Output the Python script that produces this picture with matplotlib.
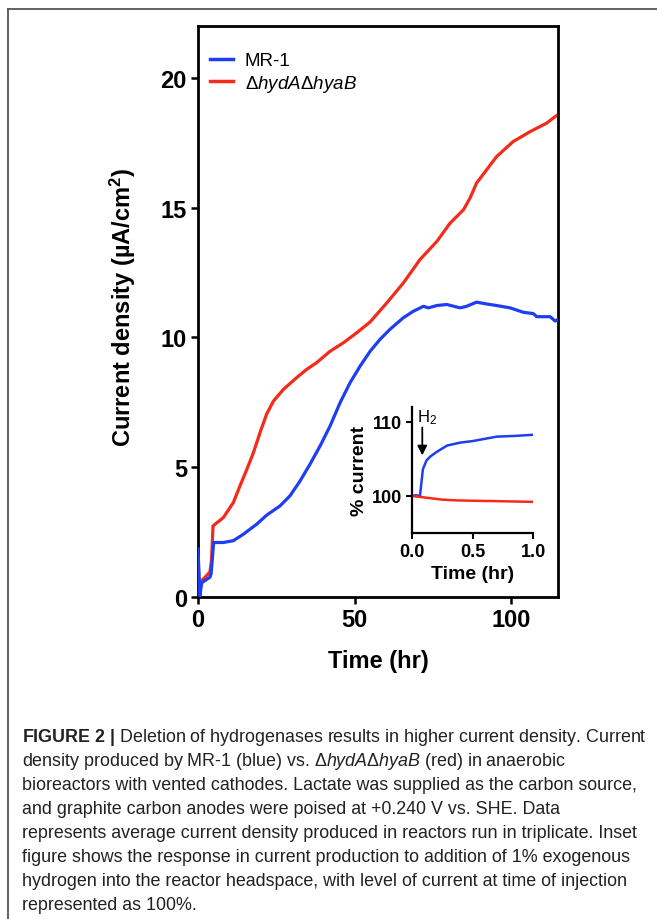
import matplotlib
matplotlib.use('Agg')
import matplotlib.pyplot as plt
from matplotlib.lines import Line2D

# 主图数据 (电流密度 µA/cm², 时间 hr)
t_mr1 = [0, 0.6, 1.2, 3.8, 4.2, 5.0, 8.1, 11.3, 14.5, 18.8, 21.9, 26.2, 29.4, 32.6, 35.8,
         39.0, 42.2, 45.4, 48.6, 51.8, 55, 58.1, 61.3, 65.6, 68.8, 72.0, 73.6, 76.3, 79.5,
         83.7, 85.8, 89.0, 92.2, 95.4, 99.7, 103.9, 107.1, 108.2, 112.5, 114.1, 115]
v_mr1 = [1.85, 0.05, 0.55, 0.76, 0.9, 2.1, 2.1, 2.17, 2.42, 2.81, 3.15, 3.51, 3.9, 4.47, 5.12,
         5.82, 6.59, 7.49, 8.26, 8.9, 9.47, 9.92, 10.31, 10.76, 11.01, 11.2, 11.14, 11.23, 11.27,
         11.14, 11.2, 11.36, 11.29, 11.23, 11.14, 10.97, 10.92, 10.8, 10.8, 10.63, 10.7]

t_mut = [0, 0.3, 1.2, 3.8, 4.3, 4.8, 8.1, 11.3, 13.4, 15.6, 17.7, 19.8, 21.9, 24.1, 27.3,
         31.5, 34.7, 37.9, 42.2, 46.4, 50.7, 55, 60.3, 65.6, 70.9, 76.3, 80.5, 84.8, 86.9,
         89.0, 92.2, 95.4, 100.7, 106.1, 111.4, 114.1, 115]
v_mut = [1.95, 0.4, 0.63, 0.96, 1.4, 2.74, 3.06, 3.64, 4.28, 4.92, 5.56, 6.33, 7.04, 7.55, 8.0,
         8.45, 8.77, 9.03, 9.47, 9.79, 10.18, 10.6, 11.33, 12.1, 13.0, 13.7, 14.4, 14.92, 15.37,
         15.95, 16.46, 16.97, 17.55, 17.93, 18.26, 18.51, 18.58]

# 插图数据 (% current)
ti_mr1 = [0, 0.03, 0.066, 0.09, 0.12, 0.15, 0.2, 0.29, 0.4, 0.5, 0.6, 0.7, 0.85, 1.0]
vi_mr1 = [100, 100.1, 100.0, 103.6, 104.8, 105.3, 105.9, 106.8, 107.2, 107.4, 107.7, 108.0, 108.1, 108.25]
ti_mut = [0, 0.05, 0.15, 0.25, 0.37, 0.5, 0.7, 0.85, 1.0]
vi_mut = [100, 99.9, 99.7, 99.5, 99.4, 99.35, 99.3, 99.25, 99.2]

labels = ['MR-1', r'$\Delta\mathit{hydA}\Delta\mathit{hyaB}$']
blue = '#1f3df2'
red = '#f52a1a'

caption = [
    r'$\mathbf{FIGURE\ 2\ |}$ Deletion of hydrogenases results in higher current density. Current',
    r'density produced by MR-1 (blue) vs. $\Delta\mathit{hydA}\Delta\mathit{hyaB}$ (red) in anaerobic',
    'bioreactors with vented cathodes. Lactate was supplied as the carbon source,',
    'and graphite carbon anodes were poised at +0.240 V vs. SHE. Data',
    'represents average current density produced in reactors run in triplicate. Inset',
    'figure shows the response in current production to addition of 1% exogenous',
    'hydrogen into the reactor headspace, with level of current at time of injection',
    'represented as 100%.',
]

plt.rcParams['font.family'] = ['Liberation Sans', 'DejaVu Sans']
plt.rcParams['mathtext.fontset'] = 'custom'
plt.rcParams['mathtext.rm'] = 'Liberation Sans'
plt.rcParams['mathtext.it'] = 'Liberation Sans:italic'
plt.rcParams['mathtext.bf'] = 'Liberation Sans:bold'

W, H = 657, 920
fig = plt.figure(figsize=(W / 100, H / 100), dpi=100)

# 外框线
fig.add_artist(Line2D([8 / W, 1], [1 - 10 / H, 1 - 10 / H], color='#555555', lw=1.3))
fig.add_artist(Line2D([8 / W, 8 / W], [0, 1 - 10 / H], color='#555555', lw=1.3))

# 主图
ax = fig.add_axes([198 / W, 1 - 598 / H, 360 / W, 571 / H])
ax.plot(t_mr1, v_mr1, color=blue, lw=2.3, label=labels[0], zorder=3)
ax.plot(t_mut, v_mut, color=red, lw=2.3, label=labels[1], zorder=2)
ax.set_xlim(0, 115)
ax.set_ylim(0, 22)
ax.set_xticks([0, 50, 100])
ax.set_yticks([0, 5, 10, 15, 20])
for s in ax.spines.values():
    s.set_linewidth(2.0)
ax.tick_params(direction='out', length=5, width=1.8, pad=3, labelsize=17,
               top=False, right=False)
for lb in ax.get_xticklabels() + ax.get_yticklabels():
    lb.set_fontweight('bold')

leg = ax.legend(loc='upper left', bbox_to_anchor=(12 / 360, 1 - 26 / 571), frameon=False,
                fontsize=13.5, handlelength=1.25, handletextpad=0.6, labelspacing=0.2,
                borderpad=0, borderaxespad=0)
for ln in leg.get_lines():
    ln.set_linewidth(2.5)

fig.text(123 / W, 1 - 307 / H, r'Current density (µA/cm$^\mathbf{2}$)', rotation=90,
         ha='center', va='center', fontsize=17, fontweight='bold')
fig.text(378 / W, 1 - 662 / H, 'Time (hr)', ha='center', va='center', fontsize=17,
         fontweight='bold')

# 插图
axi = fig.add_axes([412 / W, 1 - 534 / H, 121 / W, 126 / H])
axi.patch.set_alpha(0)
axi.plot(ti_mr1, vi_mr1, color=blue, lw=1.8)
axi.plot(ti_mut, vi_mut, color=red, lw=1.8)
axi.set_xlim(0, 1.0)
axi.set_ylim(95, 112)
axi.set_xticks([0, 0.5, 1.0])
axi.set_xticklabels(['0.0', '0.5', '1.0'])
axi.set_yticks([100, 110])
axi.spines['top'].set_visible(False)
axi.spines['right'].set_visible(False)
for s in ['left', 'bottom']:
    axi.spines[s].set_linewidth(1.6)
axi.tick_params(direction='out', length=4, width=1.5, pad=3, labelsize=13)
for lb in axi.get_xticklabels() + axi.get_yticklabels():
    lb.set_fontweight('bold')
axi.set_xlabel('Time (hr)', fontsize=14, fontweight='bold', labelpad=4)
axi.set_ylabel('% current', fontsize=14, fontweight='bold', labelpad=3)
axi.annotate('', xy=(0.085, 105.1), xytext=(0.085, 109.6),
             arrowprops=dict(arrowstyle='-|>', color='black', lw=1.3, mutation_scale=14))
axi.text(0.045, 110.1, r'H$_2$', fontsize=12, ha='left', va='baseline')

# 图注
y0 = 738
for i, line in enumerate(caption):
    fig.text(22 / W, 1 - (y0 + i * 24) / H, line, ha='left', va='center',
             fontsize=12.9, color='#222222')

plt.savefig('out.png', dpi=100)
